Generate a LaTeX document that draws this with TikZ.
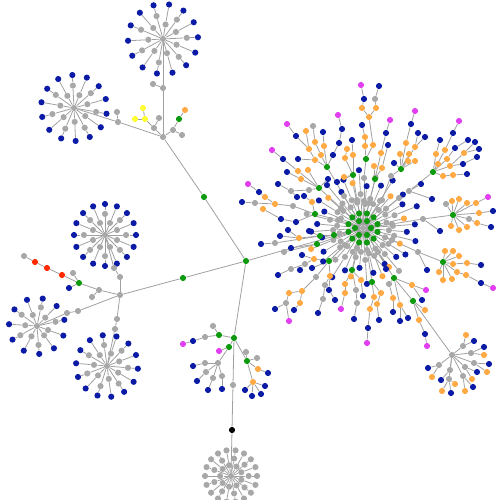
\documentclass[tikz,border=0pt]{standalone}
\usetikzlibrary{calc,backgrounds}

\definecolor{bl}{HTML}{0B1BA5}
\definecolor{or}{HTML}{FFAA44}
\definecolor{gn}{HTML}{0E9A0E}
\definecolor{gy}{HTML}{A8A8A8}
\definecolor{mg}{HTML}{E040F0}
\definecolor{rd}{HTML}{FF2A00}
\definecolor{ye}{HTML}{FFFF33}
\definecolor{bk}{HTML}{000000}
\definecolor{wire}{HTML}{A0A0A0}

\tikzset{
  dot/.style={circle, inner sep=0pt, minimum size=3.5pt, fill=#1},
  dot/.default=gy,
  link/.style={draw=wire, line width=0.45pt}
}

% name, x, y, spokes, tip colour, first angle, radius
\newcommand{\dandelion}[7]{
  \node[dot=gy] (#1) at (#2,#3) {};
  \foreach \k in {1,...,#4}{
    \pgfmathsetmacro{\ang}{#6+360*\k/#4}
    \pgfmathsetmacro{\rin}{mod(\k,2)==1 ? 0.42*#7 : 0.68*#7}
    \node[dot=gy] (#1-\k) at ($(#1)+(\ang:\rin)$) {};
    \node[dot=#5] (#1-\k-t) at ($(#1)+(\ang:#7)$) {};
  }
  \begin{pgfonlayer}{background}
    \foreach \k in {1,...,#4}{\draw[link] (#1) -- (#1-\k) -- (#1-\k-t);}
  \end{pgfonlayer}
}

% left part of the graph: name/x/y/colour/parent
\def\lefttree{
  a1/163/88/gy/A, a2/153/84/gy/a1, a3/118/122/gy/A, a4/117/112/gy/a3,
  a5/154/128/gy/A, a6/159/118/gy/a5, a7/145/119/ye/a5, a8/135/119/ye/a7,
  a9/143/108/ye/a7, a10/173/130/gy/A, a11/179/119/gn/a10, a12/185/110/or/a11,
  a13/182/135/gy/a10, a14/204/197/gn/A,
  b1/183/278/gn/B,
  c1/99/290/gy/C, c2/79/283/gn/c1, c3/62/275/rd/c2, c4/47/268/rd/c3,
  c5/35/262/rd/c4, c6/24/256/gy/c5, c7/73/273/gy/c2, c8/69/288/bl/c2,
  c9/92/297/gy/c1, c10/78/311/gy/C, c11/67/313/gy/c10, c12/117/319/gy/C,
  c13/115/329/gy/c12, c15/120/277/gy/C, c14/114/268/gy/c15,
  dd1/219/335/gn/D, dd2/213/326/gy/dd1, dd3/205/337/gy/dd1, dd4/193/341/bl/dd3,
  dd5/183/344/mg/dd4, dd6/229/347/gn/D, dd7/219/351/mg/dd6, dd8/218/363/gy/dd6,
  dd9/205/363/gy/dd8, dd10/193/366/bl/dd9, dd11/206/372/gy/dd8, dd12/197/381/bl/dd11,
  dd13/213/378/gy/dd8, dd14/208/390/bl/dd13, dd15/222/376/gy/dd8, dd16/222/389/bl/dd15,
  dd17/247/361/gn/D, dd18/246/352/gy/dd17, dd19/257/358/gy/dd17, dd20/258/369/or/dd17,
  dd21/268/373/bl/dd20, dd22/253/382/or/dd17, dd23/245/390/bl/dd22, dd24/252/396/bl/dd22,
  dd25/261/394/bl/dd22, dd26/265/386/bl/dd22, dd27/233/385/gy/D, dd28/232/430/bk/dd27}

% the big cluster: short spokes, angle/inner/outer/colour
\def\spokes{
  5/26/44/bl, 14/32/54/bl, 23/24/40/or, 32/30/50/bl, 41/26/44/bl, 50/34/56/gy,
  59/24/42/bl, 68/30/52/or, 77/26/46/bl, 86/32/56/bl, 95/24/40/bl, 104/30/50/or,
  113/26/46/bl, 122/34/58/bl, 131/24/42/gy, 140/30/52/bl, 149/26/46/bl, 158/32/56/or,
  167/24/42/bl, 176/30/52/bl, 185/26/46/bl, 194/34/58/gy, 203/24/42/bl, 212/30/52/bl,
  221/26/46/or, 230/32/56/bl, 239/24/42/bl, 248/30/52/bl, 257/26/46/or, 266/34/58/bl,
  275/24/42/bl, 284/30/52/gy, 293/26/46/bl, 302/32/56/bl, 311/24/42/or, 320/30/52/bl,
  329/26/46/bl, 338/34/58/bl, 347/24/42/or, 356/30/52/bl}

% the big cluster: arms
\def\arms{
  t1/364/201/gy/K, t2/364/178/gy/t1, t3/366/159/gn/t2, t4/365/146/or/t3,
  t5/365/137/or/t4, t6/362/125/bl/t5, t7/373/145/or/t3, t8/369/117/or/t7,
  t9/362/108/or/t8, t10/364/99/bl/t9, t11/361/85/mg/t10, t12/376/108/or/t8,
  t13/375/99/gy/t12, t14/379/86/bl/t13,
  r1/369/203/gy/K, r2/375/179/gn/r1, r3/381/153/or/r2, r4/386/133/bl/r3,
  r5/390/120/mg/r4, r6/374/166/or/r2, r7/382/168/or/r2, r8/388/145/bl/r7,
  s1/382/200/gy/K, s2/391/176/gy/s1, s3/401/169/gn/s2, s4/406/143/or/s3,
  s5/411/124/bl/s4, s6/415/111/mg/s5, s7/400/154/or/s3, s8/409/154/or/s3,
  s9/415/147/or/s3, s10/408/161/or/s3, s11/415/161/or/s3, s12/418/133/bl/s9,
  s13/425/137/bl/s9, s14/394/163/bl/s3,
  q1/399/198/gy/K, q2/409/191/gy/q1, q3/421/184/bl/q2, q4/433/172/gn/q2,
  q5/445/150/or/q4, q6/453/133/bl/q5, q7/459/121/mg/q6, q8/436/154/or/q4,
  q9/440/140/bl/q8, q10/447/159/or/q4, q11/455/148/bl/q10, q12/468/140/bl/q11,
  q13/450/166/or/q4, q14/464/153/or/q13, q15/475/142/bl/q14, q16/479/149/bl/q14,
  q17/463/164/bl/q13, q18/477/157/bl/q17, q19/438/164/or/q4, q20/443/176/or/q4,
  q21/453/175/or/q20, q22/467/174/bl/q21, q23/432/199/bl/q2,
  h1/392/224/gy/K, h2/423/219/gy/h1, h3/453/215/gn/h2, h4/452/201/or/h3,
  h5/459/199/or/h3, h6/467/203/or/h3, h7/476/203/or/h3, h8/488/197/mg/h7,
  h9/479/213/or/h3, h10/493/211/bl/h9, h11/469/219/gy/h3, h12/477/223/or/h11,
  h13/491/227/bl/h12, h14/467/227/or/h3, h15/459/230/or/h3, h16/451/226/or/h3,
  h17/446/204/gy/h3, h18/440/231/bl/h2,
  g1/392/240/gy/K, g2/418/252/gy/g1, g3/443/262/gn/g2, g4/445/251/or/g3,
  g5/453/251/or/g3, g6/459/256/or/g3, g7/453/264/or/g3, g8/467/263/or/g7,
  g9/481/265/bl/g8, g10/439/272/or/g3, g11/443/280/or/g3, g12/452/279/or/g3,
  g13/457/272/or/g3, g14/466/275/or/g13, g15/481/283/bl/g14, g16/493/288/mg/g15,
  g17/427/270/bl/g2,
  d1/378/252/gy/K, d2/394/278/gn/d1, d3/413/301/gn/d2, d4/389/284/gy/d2,
  d5/393/298/or/d4, d6/393/312/bl/d5, d7/400/305/or/d2, d8/400/321/bl/d7,
  d9/408/318/bl/d7, d10/412/285/or/d2, d11/426/290/mg/d10, d13/422/300/bl/d10,
  d14/419/320/or/d3, d15/425/334/bl/d14, d16/427/346/mg/d15, d17/425/310/or/d3,
  d18/389/267/or/d1,
  se/452/355/gy/d3, se1/463/346/gy/se, se2/466/335/or/se1, se3/474/341/bl/se1,
  se4/471/353/gy/se, se5/484/347/bl/se4, se6/484/355/or/se4, se7/474/363/gy/se,
  se8/489/364/bl/se7, se9/487/372/or/se7, se10/465/367/gy/se, se11/477/372/bl/se10,
  se12/472/379/or/se10, se13/463/376/gy/se, se14/473/387/bl/se13, se15/465/391/or/se13,
  se16/450/370/gy/se, se17/449/379/gy/se, se18/455/384/or/se17, se19/451/393/bl/se17,
  se20/442/391/or/se17, se21/439/365/gy/se, se22/428/368/bl/se21, se23/432/377/or/se21,
  se24/441/380/bl/se16,
  l1/367/250/gy/K, l2/372/282/gn/l1, l3/374/297/or/l2, l4/370/309/or/l3,
  l5/368/328/bl/l4, l6/367/343/mg/l5, l7/381/293/or/l2, l8/377/304/or/l7,
  l9/379/320/bl/l8, l10/386/269/bl/l1,
  m1/357/248/gy/K, m2/352/270/gn/m1, m3/345/284/or/m2, m4/345/293/or/m3,
  m5/341/309/mg/m4, m6/356/290/gy/m2, m7/357/303/gy/m6, m8/354/319/bl/m7,
  m9/361/280/or/m2, m10/363/296/bl/m9,
  n1/345/245/gy/K, n2/329/261/gn/n1, n3/330/276/or/n2, n4/325/285/gy/n3,
  n5/323/299/gy/n4, n6/318/313/bl/n5, n7/329/290/bl/n3, n8/335/300/bl/n7,
  n9/316/277/gy/n2, n10/314/259/or/n2, n11/305/264/gy/n10, n12/302/255/bl/n10,
  n13/291/269/gy/n11, n14/278/275/bl/n13, n15/300/270/bl/n11, n16/312/268/bl/n2,
  lf2/302/291/or/n9, lf3/289/293/or/lf2, lf4/286/303/gy/lf3, lf5/289/321/mg/lf4,
  lf6/275/309/bl/lf4, lf7/300/303/or/lf2, lf8/294/310/bl/lf7,
  ul1/344/196/gy/K, ul2/327/167/gn/ul1, ul3/321/155/or/ul2, ul4/315/142/or/ul3,
  ul5/313/126/gy/ul4, ul6/324/146/or/ul2, ul7/323/132/bl/ul6, ul8/315/160/or/ul2,
  ul9/309/149/or/ul8, ul10/296/136/bl/ul9, ul11/287/124/mg/ul10, ul12/298/159/bl/ul8,
  ul13/306/131/or/ul9, ul14/333/155/bl/ul2, ul15/339/143/bl/ul14, ul16/342/129/bl/ul15,
  ul17/338/115/mg/ul16,
  ub1/357/200/gy/K, ub2/353/175/gn/ub1, ub3/345/158/or/ub2, ub4/347/149/or/ub3,
  ub5/353/155/or/ub2, ub6/352/140/bl/ub5, ub7/337/182/bl/ub2, ub8/344/177/or/ub2,
  uc1/341/208/gy/K, uc2/319/188/gn/uc1, uc3/298/171/or/uc2, uc4/283/159/bl/uc3,
  uc5/272/150/mg/uc4, uc6/308/170/or/uc2, uc7/301/179/or/uc2, uc8/287/172/bl/uc7,
  uc9/328/179/bl/uc2, uc10/309/190/gy/uc2, uc11/291/191/gy/uc10, uc12/278/184/bl/uc11,
  uc13/297/197/bl/uc11,
  ud1/338/220/gy/K, ud2/315/214/gn/ud1, ud3/312/202/or/ud2, ud4/293/206/gy/ud2,
  ud5/275/204/or/ud4, ud6/265/197/or/ud5, ud7/259/192/bl/ud6, ud8/248/184/mg/ud7,
  ud9/255/203/gy/ud5, ud10/242/202/bl/ud9, ud11/296/222/bl/ud2, ud12/281/219/bl/ud11,
  ud13/263/209/or/ud12, ud14/304/196/bl/ud3,
  ue1/334/235/gn/K, ue2/320/236/gn/ue1, ue3/299/238/or/ue2, ue4/288/230/bl/ue3,
  ue5/280/236/bl/ue3, ue6/317/244/gn/K, ue7/291/248/bl/ue6, ue8/284/252/gy/ue6,
  ue9/275/243/gy/ue2, ue10/261/244/bl/ue9, ue11/309/231/bl/ue2}

\begin{document}
\begin{tikzpicture}[x=0.02cm,y=-0.02cm]
\useasboundingbox (0,0) rectangle (500,500);
\clip (0,0) rectangle (500,500);

% hubs
\node[dot=gy] (A) at (163,137) {};
\node[dot=gn] (B) at (246,261) {};
\node[dot=gy] (C) at (120,295) {};
\node[dot=gn] (D) at (234,338) {};
\node[dot=gy] (K) at (363,228) {};

\dandelion{top}{163}{39}{14}{bl}{100}{35}
\dandelion{nw}{74}{108}{14}{bl}{10}{33}
\dandelion{wm}{105}{235}{16}{bl}{0}{31}
\dandelion{w}{37}{326}{11}{bl}{20}{28}
\dandelion{sw}{107}{366}{14}{bl}{5}{31}
\dandelion{s}{231}{476}{18}{gy}{0}{26}

\foreach \n/\x/\y/\c/\p in \lefttree {\node[dot=\c] (\n) at (\x,\y) {};}
\foreach \a/\ri/\ro/\c [count=\i] in \spokes {
  \node[dot=gy] (fl\i) at ($(K)+(\a:\ri)$) {};
  \node[dot=\c] (fl\i-t) at ($(K)+(\a:\ro)$) {};
}
\foreach \n/\x/\y/\c/\p in \arms {\node[dot=\c] (\n) at (\x,\y) {};}
% green ring round the centre
\foreach \a [count=\i] in {15,45,...,345} {\node[dot=gn] (in\i) at ($(K)+(\a:15)$) {};}
\foreach \a [count=\i] in {0,60,...,300} {\node[dot=gn] (ic\i) at ($(K)+(\a:8)$) {};}

\begin{pgfonlayer}{background}
\foreach \n/\x/\y/\c/\p in \lefttree {\draw[link] (\p) -- (\n);}
\foreach \n/\x/\y/\c/\p in \arms {\draw[link] (\p) -- (\n);}
\foreach \a/\ri/\ro/\c [count=\i] in \spokes {\draw[link] (K) -- (fl\i) -- (fl\i-t);}
\foreach \i in {1,...,12} {\draw[link] (K) -- (in\i);}
\foreach \i in {1,...,6} {\draw[link] (K) -- (ic\i);}
\draw[link] (a14) -- (B);
\draw[link] (b1) -- (C);
\draw[link] (B) -- (D);
\draw[link] (B) -- (K);
\draw[link] (top) -- (a1);
\draw[link] (nw) -- (a3);
\draw[link] (wm) -- (c14);
\draw[link] (w) -- (c11);
\draw[link] (sw) -- (c13);
\draw[link] (s) -- (dd28);
\end{pgfonlayer}
\end{tikzpicture}
\end{document}
